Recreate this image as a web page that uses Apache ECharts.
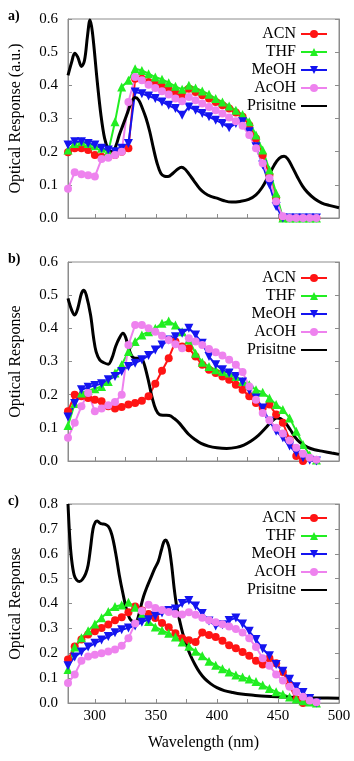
<!DOCTYPE html>
<html>
<head>
<meta charset="utf-8">
<script src="https://cdn.jsdelivr.net/npm/echarts@6/dist/echarts.min.js"></script>
<style>
html,body{margin:0;padding:0;background:#fff;}
#chart{width:354px;height:761px;}
</style>
</head>
<body>
<div id="chart"></div>
<script>
// 波长 (nm)
var wl = [278,283.5,289,294.5,300,305.5,311,316.5,322,327.5,333,338.5,344,349.5,355,360.5,366,371.5,377,382.5,388,393.5,399,404.5,410,415.5,421,426.5,432,437.5,443,448.5,454,459.5,465,470.5,476,481.5];
var names = ['ACN', 'THF', 'MeOH', 'AcOH', 'Prisitne'];

// a)
var aACN = [0.198,0.21,0.21,0.205,0.19,0.185,0.185,0.19,0.20,0.21,0.42,0.42,0.41,0.405,0.397,0.388,0.378,0.368,0.39,0.38,0.37,0.36,0.35,0.34,0.33,0.318,0.305,0.28,0.24,0.19,0.13,0.06,0,0,0,0,0,0];
var aTHF = [0.205,0.225,0.23,0.225,0.218,0.21,0.20,0.29,0.395,0.415,0.45,0.445,0.435,0.425,0.418,0.408,0.397,0.388,0.40,0.392,0.383,0.373,0.36,0.35,0.338,0.325,0.312,0.29,0.25,0.205,0.145,0.075,0,0,0,0,0,0];
var aMeOH = [0.22,0.23,0.23,0.225,0.22,0.21,0.205,0.20,0.21,0.225,0.38,0.375,0.368,0.36,0.35,0.34,0.33,0.31,0.335,0.325,0.315,0.305,0.295,0.285,0.272,0.285,0.29,0.26,0.215,0.16,0.10,0.035,0,0,0,0,0,0];
var aAcOH = [0.088,0.138,0.132,0.129,0.125,0.178,0.182,0.19,0.20,0.35,0.425,0.415,0.402,0.392,0.382,0.372,0.36,0.352,0.365,0.355,0.345,0.335,0.325,0.315,0.303,0.292,0.278,0.25,0.21,0.165,0.12,0.05,0.005,0,0,0,0,0];
var aPris = [[278,0.43],[281,0.47],[283.5,0.497],[286,0.485],[289,0.457],[291.5,0.475],[294,0.55],[296,0.597],[298,0.56],[302,0.41],[305,0.31],[308,0.24],[311,0.207],[314,0.2],[317,0.215],[320,0.25],[323,0.28],[327,0.32],[330,0.35],[333,0.363],[336,0.355],[339,0.33],[342,0.3],[345,0.26],[348,0.21],[351,0.165],[354,0.135],[357,0.126],[360,0.125],[364,0.135],[368,0.148],[371,0.153],[374,0.147],[377,0.133],[381,0.113],[386,0.088],[390,0.075],[395,0.065],[400,0.06],[406,0.052],[412,0.048],[419,0.05],[426,0.056],[432,0.07],[437,0.092],[442,0.125],[447,0.16],[451,0.18],[455,0.186],[458,0.178],[462,0.152],[466,0.123],[470,0.097],[474,0.078],[480,0.058],[486,0.045],[492,0.038],[500,0.031]];

// b)
var bACN = [0.15,0.20,0.195,0.19,0.185,0.18,0.165,0.158,0.163,0.17,0.175,0.182,0.195,0.233,0.272,0.31,0.36,0.345,0.34,0.315,0.29,0.275,0.265,0.255,0.245,0.23,0.215,0.195,0.175,0.16,0.17,0.14,0.115,0.065,0.015,0];
var bTHF = [0.107,0.173,0.205,0.213,0.218,0.225,0.24,0.265,0.29,0.33,0.36,0.38,0.39,0.40,0.415,0.422,0.41,0.39,0.365,0.325,0.298,0.285,0.275,0.27,0.265,0.255,0.24,0.23,0.215,0.207,0.19,0.17,0.155,0.13,0.09,0.05,0.018,0.003];
var bMeOH = [0.133,0.173,0.215,0.222,0.228,0.233,0.245,0.255,0.27,0.285,0.295,0.305,0.318,0.335,0.35,0.365,0.375,0.385,0.40,0.38,0.355,0.315,0.29,0.275,0.265,0.255,0.238,0.213,0.19,0.16,0.12,0.09,0.07,0.045,0.025,0.01,0.002,0];
var bAcOH = [0.07,0.115,0.165,0.205,0.15,0.158,0.168,0.178,0.2,0.35,0.41,0.41,0.4,0.39,0.378,0.365,0.352,0.34,0.37,0.36,0.35,0.338,0.328,0.318,0.305,0.29,0.268,0.225,0.185,0.145,0.123,0.1,0.083,0.062,0.04,0.022,0.01,0.004];
var bPris = [[278,0.49],[281,0.455],[283.5,0.44],[286,0.46],[289,0.505],[291,0.515],[293,0.5],[296.5,0.44],[299,0.37],[301,0.33],[304,0.305],[307,0.297],[311,0.292],[314,0.31],[317,0.345],[320,0.37],[323,0.385],[325,0.375],[327,0.35],[330,0.318],[333,0.31],[336,0.31],[339,0.305],[341,0.285],[344,0.24],[347,0.19],[350,0.155],[353,0.14],[357,0.138],[361,0.137],[365,0.128],[369,0.115],[373,0.097],[377,0.08],[382,0.065],[387,0.053],[393,0.045],[400,0.04],[408,0.038],[416,0.041],[422,0.048],[428,0.06],[434,0.077],[440,0.1],[445,0.12],[449,0.13],[452,0.128],[456,0.115],[460,0.095],[464,0.072],[468,0.056],[474,0.042],[480,0.034],[487,0.029],[494,0.024],[500,0.02]];

// c)
var cACN = [0.175,0.227,0.255,0.275,0.288,0.302,0.316,0.333,0.345,0.365,0.388,0.372,0.358,0.342,0.322,0.305,0.28,0.26,0.252,0.245,0.283,0.273,0.265,0.25,0.232,0.22,0.205,0.19,0.17,0.155,0.18,0.16,0.125,0.07,0.015,0];
var cTHF = [0.135,0.225,0.262,0.29,0.318,0.343,0.368,0.388,0.394,0.405,0.385,0.355,0.328,0.306,0.292,0.28,0.265,0.245,0.228,0.208,0.19,0.168,0.152,0.138,0.125,0.113,0.105,0.096,0.086,0.072,0.058,0.045,0.035,0.024,0.016,0.009,0.004,0];
var cMeOH = [0.15,0.185,0.205,0.225,0.24,0.253,0.267,0.282,0.294,0.302,0.31,0.325,0.335,0.35,0.362,0.372,0.378,0.4,0.412,0.39,0.36,0.33,0.31,0.315,0.332,0.342,0.318,0.288,0.255,0.218,0.19,0.155,0.128,0.095,0.065,0.042,0.018,0];
var cAcOH = [0.08,0.115,0.17,0.187,0.194,0.2,0.207,0.215,0.23,0.26,0.32,0.37,0.395,0.382,0.374,0.366,0.358,0.356,0.365,0.355,0.343,0.333,0.325,0.317,0.308,0.297,0.283,0.26,0.225,0.18,0.15,0.115,0.09,0.065,0.045,0.025,0.01,0.003];
var cPris = [[278,0.8],[279.5,0.66],[281,0.575],[283,0.515],[285,0.495],[287.5,0.488],[290,0.498],[292.5,0.52],[294.5,0.555],[296.5,0.625],[298.5,0.7],[300.5,0.728],[302,0.732],[304,0.724],[306,0.72],[308.5,0.718],[311,0.71],[313,0.69],[315,0.655],[317.5,0.59],[320,0.515],[323,0.44],[326,0.375],[328.5,0.34],[331,0.327],[333.5,0.325],[335.5,0.345],[337.5,0.385],[340,0.43],[343,0.47],[346,0.505],[349,0.54],[352,0.57],[354.5,0.615],[356.5,0.648],[358,0.655],[359.5,0.645],[361,0.62],[363,0.55],[365,0.46],[367,0.39],[369.5,0.33],[372,0.28],[375,0.235],[378,0.195],[382,0.155],[386,0.122],[390,0.098],[395,0.077],[400,0.062],[406,0.05],[413,0.042],[420,0.036],[430,0.031],[440,0.027],[455,0.024],[470,0.021],[485,0.02],[500,0.019]];

var xTicks = [300,325,350,375,400,425,450,475];
var xLabels = [300,350,400,450,500];
var yMax = [0.6, 0.6, 0.8];
var yNames = ['Optical Response (a.u.)', 'Optical Response', 'Optical Response'];
var gridTop = [19, 262, 504];
var legendTop = [26, 270, 510];

var font = 'Liberation Serif';
var frame = '#8c8c8c';
var sty = [ // 颜色 / 标记
	{color: '#ff1414', symbol: 'circle', size: 8, rot: 0},
	{color: '#22ee22', symbol: 'triangle', size: 9, rot: 0},
	{color: '#1414f0', symbol: 'triangle', size: 9, rot: 180},
	{color: '#ee82ee', symbol: 'circle', size: 8, rot: 0}
];
var panels = [
	[aACN, aTHF, aMeOH, aAcOH, aPris],
	[bACN, bTHF, bMeOH, bAcOH, bPris],
	[cACN, cTHF, cMeOH, cAcOH, cPris]
];

(function() {
	var myChart = echarts.init(document.getElementById('chart'));
	var grid = [], xAxis = [], yAxis = [], series = [], legend = [], title = [];
	['a)', 'b)', 'c)'].forEach(function(t, i) {
		title.push({text: t, left: 3, top: gridTop[i] - 15,
			textStyle: {fontFamily: font, fontSize: 14, fontWeight: 'bold', color: '#000'}});
	});
	// 图例: Prisitne 只显示线
	var legendData = names.map(function(n, i) {
		return i == 4 ? {name: n, itemStyle: {opacity: 0}} : {name: n};
	});
	for (var g = 0; g < 3; g++) {
		grid.push({left: 58, top: gridTop[g], width: 281, height: 199,
			show: true, borderColor: frame, borderWidth: 1, backgroundColor: 'transparent'});
		xAxis.push({
			type: 'value', gridIndex: g, min: 278, max: 500,
			name: g == 2 ? 'Wavelength (nm)' : '', nameLocation: 'middle', nameGap: 32,
			nameTextStyle: {fontFamily: font, fontSize: 16, color: '#000'},
			splitLine: {show: false},
			axisLine: {show: true, lineStyle: {color: frame}},
			axisTick: {show: true, inside: true, length: 4, customValues: xTicks, lineStyle: {color: frame}},
			axisLabel: {show: g == 2, customValues: xLabels, margin: 6,
				fontFamily: font, fontSize: 15, color: '#000'}
		});
		yAxis.push({
			type: 'value', gridIndex: g, min: 0, max: yMax[g], interval: 0.1,
			name: yNames[g], nameLocation: 'middle', nameGap: 44,
			nameTextStyle: {fontFamily: font, fontSize: 16, color: '#000'},
			splitLine: {show: false},
			axisLine: {show: true, lineStyle: {color: frame}},
			axisTick: {show: true, inside: true, length: 4, lineStyle: {color: frame}},
			axisLabel: {margin: 10, fontFamily: font, fontSize: 15, color: '#000',
				formatter: function(v) { return v.toFixed(1); }}
		});
		yAxis.push({ //右侧刻度
			type: 'value', gridIndex: g, position: 'right', min: 0, max: yMax[g], interval: 0.1,
			splitLine: {show: false},
			axisLine: {show: true, lineStyle: {color: frame}},
			axisTick: {show: true, inside: true, length: 4, lineStyle: {color: frame}},
			axisLabel: {show: false}
		});
		var d = panels[g];
		for (var k = 0; k < 4; k++) {
			series.push({
				name: names[k], type: 'line', xAxisIndex: g, yAxisIndex: g * 2,
				data: d[k].map(function(v, i) { return [wl[i], v]; }),
				symbol: sty[k].symbol, symbolSize: sty[k].size, symbolRotate: sty[k].rot,
				clip: false, animation: false,
				lineStyle: {color: sty[k].color, width: 2},
				itemStyle: {color: sty[k].color}
			});
		}
		series.push({
			name: names[4], type: 'line', xAxisIndex: g, yAxisIndex: g * 2,
			data: d[4], smooth: 0.35, showSymbol: false, symbol: 'none',
			animation: false, z: 3,
			lineStyle: {color: '#000', width: 3},
			itemStyle: {color: '#000'}
		});
		legend.push({
			orient: 'vertical', right: 26, top: legendTop[g], align: 'right', padding: 0,
			itemWidth: 26, itemHeight: 10, itemGap: 2,
			textStyle: {fontFamily: font, fontSize: 16, color: '#000'},
			data: legendData
		});
	}
	var option = {
		backgroundColor: '#fff',
		animation: false,
		title: title,
		grid: grid,
		xAxis: xAxis,
		yAxis: yAxis,
		legend: legend,
		series: series
	};
	myChart.setOption(option);
	window.addEventListener('resize', function() {
		myChart.resize();
	});
})();
</script>
</body>
</html>
